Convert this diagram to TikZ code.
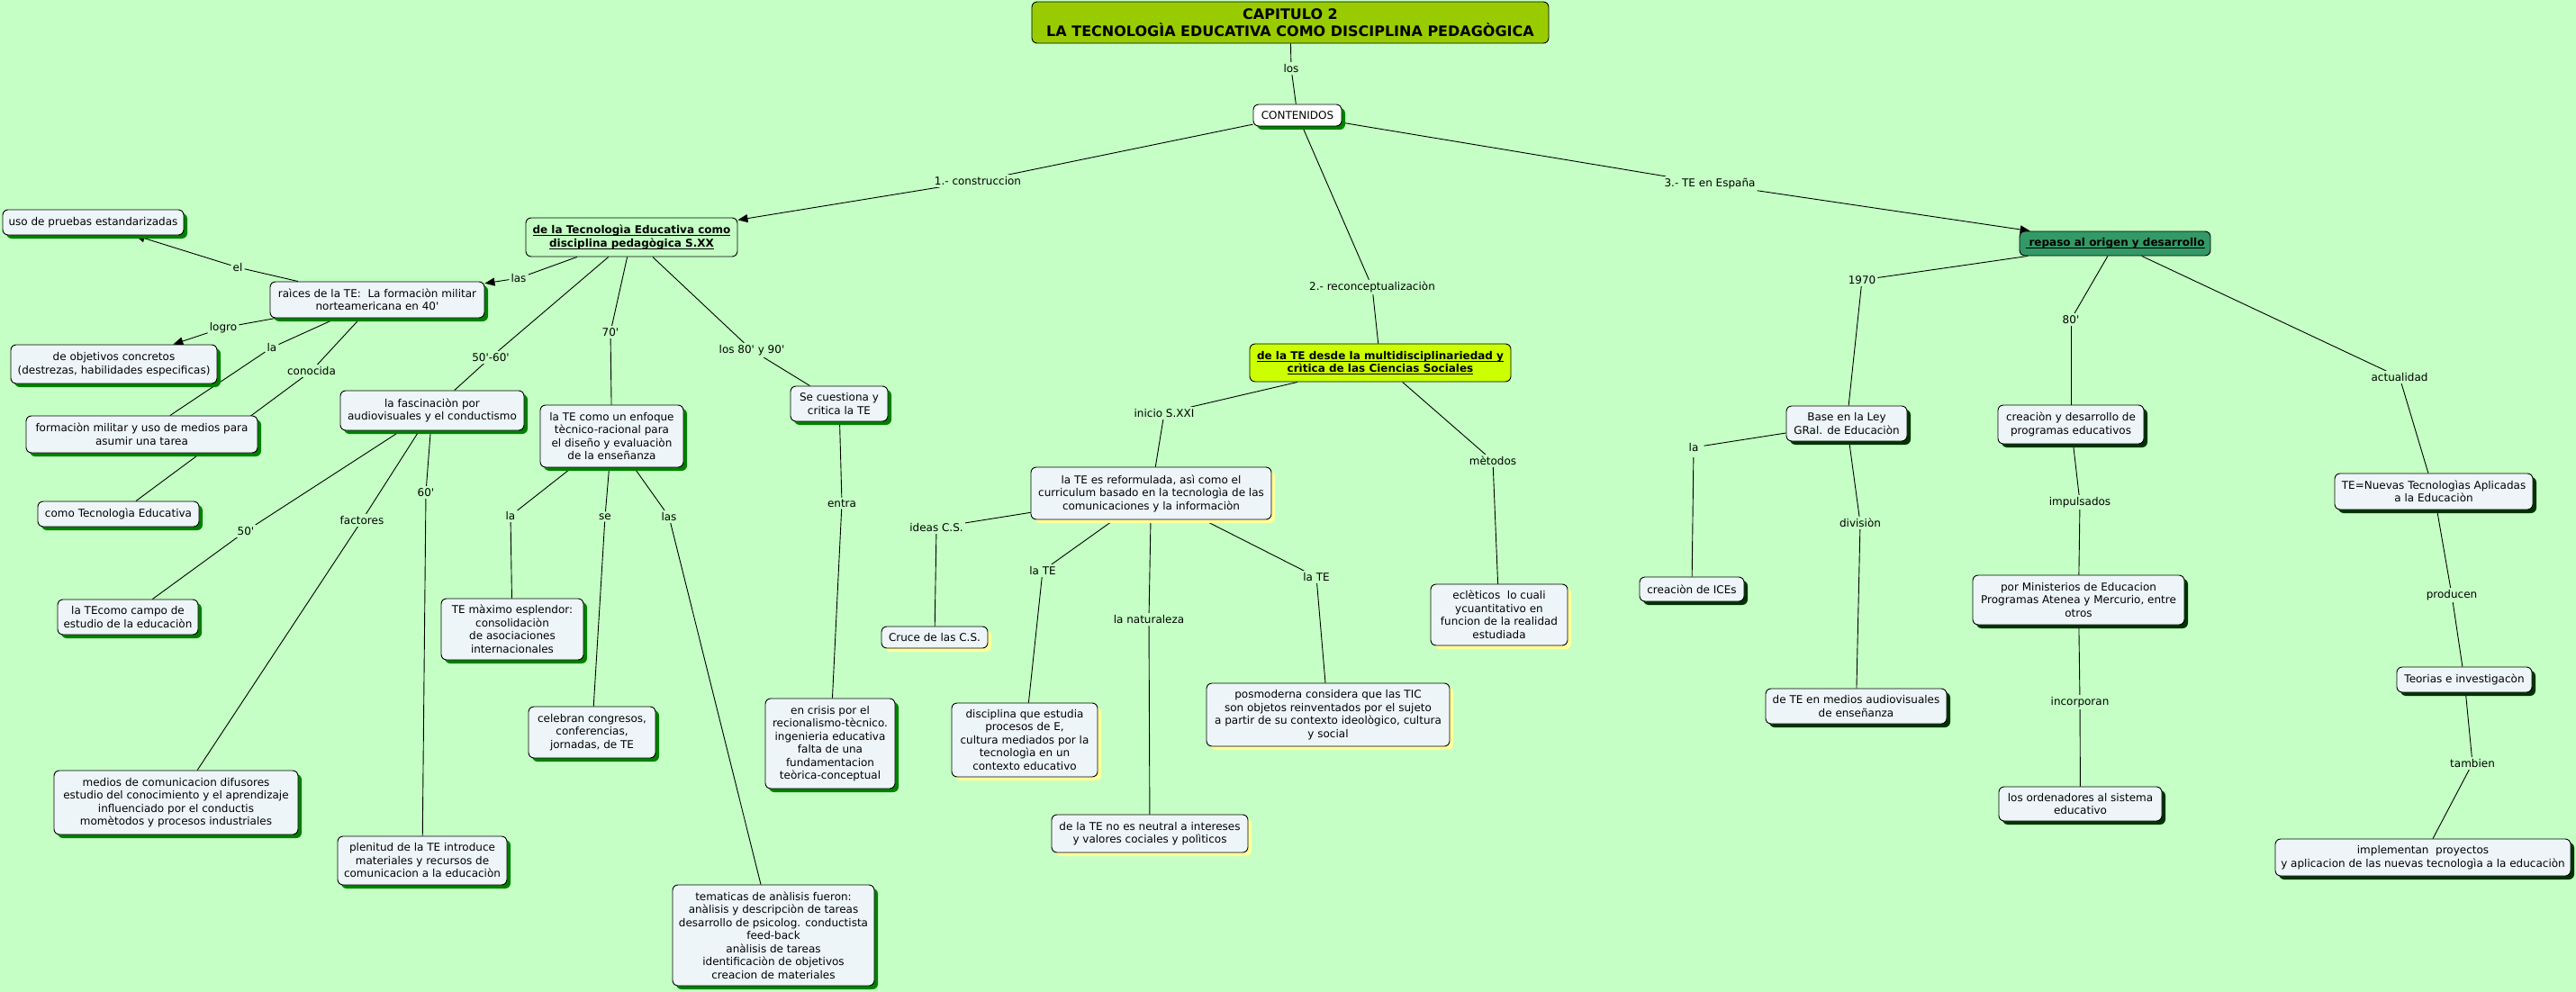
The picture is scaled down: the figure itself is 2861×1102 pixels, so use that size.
\documentclass[tikz,border=0pt]{standalone}
\usepackage{fontspec}
\setmainfont{DejaVu Sans}
\usetikzlibrary{arrows.meta,shadows}
\definecolor{bgc}{HTML}{C5FFC5}
\definecolor{nodefill}{HTML}{EEF5F9}
\definecolor{shgreen}{HTML}{008000}
\definecolor{shdark}{HTML}{003300}
\definecolor{shyellow}{HTML}{FFFF99}
\definecolor{titlefill}{HTML}{99CC00}
\definecolor{multifill}{HTML}{CCFF00}
\definecolor{repasofill}{HTML}{339966}
\newcommand{\apos}{\textquotesingle}
\newcommand{\ulx}[1]{\leavevmode\setbox0\hbox{#1}\rlap{\rule[-2.2pt]{\wd0}{0.9pt}}\box0}
\pgfdeclarelayer{bglayer}
\pgfdeclarelayer{lines}
\pgfsetlayers{bglayer,lines,main}
\begin{document}
\begin{tikzpicture}[x=1pt,y=-1pt,
  box/.style={draw=black, line width=0.9pt, rounded corners=6pt, fill=nodefill,
    align=center, inner sep=3pt, font=\fontsize{12}{14.5}\selectfont},
  gsh/.style={general shadow={fill=shgreen, shadow xshift=4pt, shadow yshift=-4pt}},
  dsh/.style={general shadow={fill=shdark, shadow xshift=4pt, shadow yshift=-4pt}},
  ysh/.style={general shadow={fill=shyellow, shadow xshift=4pt, shadow yshift=-4pt}},
  lbl/.style={fill=bgc, inner sep=2pt, font=\fontsize{12}{14.5}\selectfont},
  lnk/.style={draw=black, line width=0.9pt},
  arr/.style={lnk, -{Triangle[length=11pt,width=9pt]}}
]
\begin{pgfonlayer}{bglayer}
\fill[bgc] (0,0) rectangle (2861,1102);
\end{pgfonlayer}
\useasboundingbox (0,0) rectangle (2861,1102);

% ---------- main nodes ----------
\node[box, fill=titlefill, minimum width=574pt, minimum height=46pt,
  font=\fontsize{16}{19.3}\selectfont\bfseries] (title) at (1433,25)
  {CAPITULO 2\\LA TECNOLOGÌA EDUCATIVA COMO DISCIPLINA PEDAGÒGICA};
\node[box, gsh, fill=white, minimum width=98pt, minimum height=24pt] (contenidos) at (1441,128) {CONTENIDOS};
\node[box, fill=bgc, minimum width=235pt, minimum height=43pt, font=\fontsize{12}{14.5}\selectfont\bfseries] (tecSXX) at (701.5,263.5)
  {\ulx{de la Tecnologìa Educativa como}\\\ulx{disciplina pedagògica S.XX}};
\node[box, fill=repasofill, minimum width=212pt, minimum height=27pt, font=\fontsize{12}{14.5}\selectfont\bfseries] (repaso) at (2349,270.5)
  {\ulx{\hspace{4pt}repaso al origen y desarrollo}};
\node[box, fill=multifill, minimum width=290pt, minimum height=42pt, font=\fontsize{12}{14.5}\selectfont\bfseries] (multi) at (1533,403)
  {\ulx{de la TE desde la multidisciplinariedad y}\\\ulx{crìtica de las Ciencias Sociales}};

% left cluster
\node[box, gsh, minimum width=238pt, minimum height=40pt] (raices) at (419,333)
  {raìces de la TE:\ \ La formaciòn militar\\norteamericana en 40\apos};
\node[box, gsh, minimum width=201pt, minimum height=28pt] (pruebas) at (103.5,247) {uso de pruebas estandarizadas};
\node[box, gsh, minimum width=229pt, minimum height=43pt] (objetivos) at (126.5,404.5)
  {de objetivos concretos\\(destrezas, habilidades especificas)};
\node[box, gsh, minimum width=257pt, minimum height=41pt] (formacion) at (157.5,482.5)
  {formaciòn militar y uso de medios para\\asumir una tarea};
\node[box, gsh, minimum width=179pt, minimum height=28pt] (comoTE) at (131.5,571) {como Tecnologìa Educativa};
\node[box, gsh, minimum width=204pt, minimum height=44pt] (fascinacion) at (480,456)
  {la fascinaciòn por\\audiovisuales y el conductismo};
\node[box, gsh, minimum width=159pt, minimum height=69pt] (enfoque) at (679.5,484.5)
  {la TE como un enfoque\\tècnico-racional para\\el diseño y evaluaciòn\\de la enseñanza};
\node[box, gsh, minimum width=108pt, minimum height=39pt] (cuestiona) at (932,448.5)
  {Se cuestiona y\\critica la TE};
\node[box, gsh, minimum width=156pt, minimum height=39pt] (campo) at (142,685.5)
  {la TEcomo campo de\\estudio de la educaciòn};
\node[box, gsh, minimum width=271pt, minimum height=71pt] (medios) at (195.5,891.5)
  {medios de comunicacion difusores\\estudio del conocimiento y el aprendizaje\\influenciado por el conductis\\momètodos y procesos industriales};
\node[box, gsh, minimum width=188pt, minimum height=54pt] (plenitud) at (469,956)
  {plenitud de la TE introduce\\materiales y recursos de\\comunicacion a la educaciòn};
\node[box, gsh, minimum width=158pt, minimum height=68pt] (maximo) at (569,699)
  {TE màximo esplendor:\\consolidaciòn\\de asociaciones\\internacionales};
\node[box, gsh, minimum width=141pt, minimum height=57pt] (congresos) at (657.5,813.5)
  {celebran congresos,\\conferencias,\\jornadas, de TE};
\node[box, gsh, minimum width=224pt, minimum height=112pt] (tematicas) at (859,1039)
  {tematicas de anàlisis fueron:\\anàlisis y descripciòn de tareas\\desarrollo de psicolog. conductista\\feed-back\\anàlisis de tareas\\identificaciòn de objetivos\\creacion de materiales};
\node[box, gsh, minimum width=144pt, minimum height=100pt] (crisis) at (922,826)
  {en crisis por el\\recionalismo-tècnico.\\ingenieria educativa\\falta de una\\fundamentacion\\teòrica-conceptual};

% middle cluster
\node[box, ysh, minimum width=267pt, minimum height=58pt] (reform) at (1278.5,548)
  {la TE es reformulada, asì como el\\curriculum basado en la tecnologìa de las\\comunicaciones y la informaciòn};
\node[box, ysh, minimum width=152pt, minimum height=68pt] (ecle) at (1665,683)
  {eclèticos\ \ lo cuali\\ycuantitativo en\\funcion de la realidad\\estudiada};
\node[box, ysh, minimum width=118pt, minimum height=24pt] (cruce) at (1038,708) {Cruce de las C.S.};
\node[box, ysh, minimum width=162pt, minimum height=82pt] (disciplina) at (1138,822)
  {disciplina que estudia\\procesos de E,\\cultura mediados por la\\tecnologìa en un\\contexto educativo};
\node[box, ysh, minimum width=218pt, minimum height=42pt] (neutral) at (1277,926)
  {de la TE no es neutral a intereses\\y valores cociales y polìticos};
\node[box, ysh, minimum width=270pt, minimum height=70pt] (posmo) at (1475,794)
  {posmoderna considera que las TIC\\son objetos reinventados por el sujeto\\a partir de su contexto ideològico, cultura\\y social};

% right cluster
\node[box, dsh, minimum width=134pt, minimum height=39pt] (base) at (2051,470.5)
  {Base en la Ley\\GRal. de Educaciòn};
\node[box, dsh, minimum width=116pt, minimum height=27pt] (ices) at (1879,654.5) {creaciòn de ICEs};
\node[box, dsh, minimum width=201pt, minimum height=39pt] (audiovis) at (2061.5,784.5)
  {de TE en medios audiovisuales\\de enseñanza};
\node[box, dsh, minimum width=162pt, minimum height=43pt] (progr) at (2300,471.5)
  {creaciòn y desarrollo de\\programas educativos};
\node[box, dsh, minimum width=235pt, minimum height=55pt] (minist) at (2308.5,666.5)
  {por Ministerios de Educacion\\Programas Atenea y Mercurio, entre\\otros};
\node[box, dsh, minimum width=181pt, minimum height=38pt] (orden) at (2310.5,893)
  {los ordenadores al sistema\\educativo};
\node[box, dsh, minimum width=220pt, minimum height=40pt] (nuevas) at (2703,546)
  {TE=Nuevas Tecnologìas Aplicadas\\a la Educaciòn};
\node[box, dsh, minimum width=150pt, minimum height=28pt] (teorias) at (2737,755) {Teorias e investigacòn};
\node[box, dsh, minimum width=328pt, minimum height=41pt] (implem) at (2691,952.5)
  {implementan\ \ proyectos\\y aplicacion de las nuevas tecnologìa a la educaciòn};

% ---------- linking phrases ----------
\node[lbl] (los) at (1434,76) {los};
\node[lbl] (constr) at (1086,201) {1.- construccion};
\node[lbl] (reconc) at (1524,319) {2.- reconceptualizaciòn};
\node[lbl] (espana) at (1899,204) {3.- TE en España};
\node[lbl] (las) at (576,309) {las};
\node[lbl] (el) at (264,297) {el};
\node[lbl] (logro) at (248,364) {logro};
\node[lbl] (laA) at (302,386) {la};
\node[lbl] (conocida) at (346,412) {conocida};
\node[lbl] (l5060) at (545,397) {50\apos-60\apos};
\node[lbl] (l70) at (678,369) {70\apos};
\node[lbl] (l8090) at (835,389) {los 80\apos{} y 90\apos};
\node[lbl] (l50) at (273,590) {50\apos};
\node[lbl] (factores) at (402,578) {factores};
\node[lbl] (l60) at (473,547) {60\apos};
\node[lbl] (laB) at (567,573) {la};
\node[lbl] (se) at (672,574) {se};
\node[lbl] (lasB) at (743,574) {las};
\node[lbl] (entra) at (935,559) {entra};
\node[lbl] (inicio) at (1293,459) {inicio S.XXI};
\node[lbl] (metodos) at (1658,512) {mètodos};
\node[lbl] (ideas) at (1040,586) {ideas C.S.};
\node[lbl] (laTEa) at (1158,634) {la TE};
\node[lbl] (natur) at (1276,688) {la naturaleza};
\node[lbl] (laTEb) at (1462,641) {la TE};
\node[lbl] (l1970) at (2068,311) {1970};
\node[lbl, inner sep=6pt] (laC) at (1881,497) {la};
\node[lbl] (division) at (2066,581) {divisiòn};
\node[lbl] (l80) at (2300,355) {80\apos};
\node[lbl] (impuls) at (2310,558) {impulsados};
\node[lbl] (incorp) at (2310,780) {incorporan};
\node[lbl] (actual) at (2665,419) {actualidad};
\node[lbl] (producen) at (2723,661) {producen};
\node[lbl] (tambien) at (2746,848) {tambien};

% ---------- connectors ----------
\begin{pgfonlayer}{lines}
\draw[lnk] (title) -- (los); \draw[lnk] (los) -- (contenidos);
\draw[lnk] (contenidos) -- (constr); \draw[arr] (constr) -- (tecSXX);
\draw[lnk] (contenidos) -- (reconc); \draw[lnk] (reconc) -- (multi);
\draw[lnk] (contenidos) -- (espana); \draw[arr] (espana) -- (repaso);

\draw[lnk] (tecSXX) -- (las); \draw[arr] (las) -- (raices);
\draw[lnk] (raices) -- (el); \draw[arr] (el) -- (pruebas);
\draw[lnk] (raices) -- (logro); \draw[arr] (logro) -- (objetivos);
\draw[lnk] (raices) -- (laA); \draw[lnk] (laA) -- (formacion);
\draw[lnk] (raices) -- (conocida); \draw[lnk] (conocida) -- (comoTE);
\draw[lnk] (tecSXX) -- (l5060); \draw[lnk] (l5060) -- (fascinacion);
\draw[lnk] (tecSXX) -- (l70); \draw[lnk] (l70) -- (enfoque);
\draw[lnk] (tecSXX) -- (l8090); \draw[lnk] (l8090) -- (cuestiona);
\draw[lnk] (fascinacion) -- (l50); \draw[lnk] (l50) -- (campo);
\draw[lnk] (fascinacion) -- (factores); \draw[lnk] (factores) -- (medios);
\draw[lnk] (fascinacion) -- (l60); \draw[lnk] (l60) -- (plenitud);
\draw[lnk] (enfoque) -- (laB); \draw[lnk] (laB) -- (maximo);
\draw[lnk] (enfoque) -- (se); \draw[lnk] (se) -- (congresos);
\draw[lnk] (enfoque) -- (lasB); \draw[lnk] (lasB) -- (tematicas);
\draw[lnk] (cuestiona) -- (entra); \draw[lnk] (entra) -- (crisis);

\draw[lnk] (multi) -- (inicio); \draw[lnk] (inicio) -- (reform);
\draw[lnk] (multi) -- (metodos); \draw[lnk] (metodos) -- (ecle);
\draw[lnk] (reform) -- (ideas); \draw[lnk] (ideas) -- (cruce);
\draw[lnk] (reform) -- (laTEa); \draw[lnk] (laTEa) -- (disciplina);
\draw[lnk] (reform) -- (natur); \draw[lnk] (natur) -- (neutral);
\draw[lnk] (reform) -- (laTEb); \draw[lnk] (laTEb) -- (posmo);

\draw[lnk] (repaso) -- (l1970); \draw[lnk] (l1970) -- (base);
\draw[lnk] (base) -- (laC); \draw[lnk] (laC) -- (ices);
\draw[lnk] (base) -- (division); \draw[lnk] (division) -- (audiovis);
\draw[lnk] (repaso) -- (l80); \draw[lnk] (l80) -- (progr);
\draw[lnk] (progr) -- (impuls); \draw[lnk] (impuls) -- (minist);
\draw[lnk] (minist) -- (incorp); \draw[lnk] (incorp) -- (orden);
\draw[lnk] (repaso) -- (actual); \draw[lnk] (actual) -- (nuevas);
\draw[lnk] (nuevas) -- (producen); \draw[lnk] (producen) -- (teorias);
\draw[lnk] (teorias) -- (tambien); \draw[lnk] (tambien) -- (implem);
\end{pgfonlayer}
\end{tikzpicture}
\end{document}
